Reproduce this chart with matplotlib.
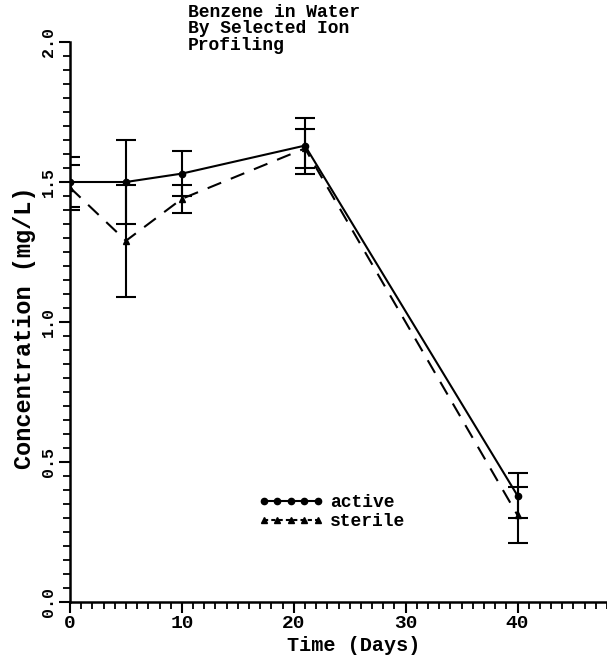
import matplotlib
matplotlib.use("Agg")
import matplotlib.pyplot as plt
from matplotlib.ticker import MultipleLocator
from matplotlib.lines import Line2D

# sampling days
days = [0, 5, 10, 21, 40]

# active series: mean concentration and error half-width (mg/L)
active = [1.50, 1.50, 1.53, 1.63, 0.38]
active_err = [0.09, 0.15, 0.08, 0.10, 0.08]

# sterile series
sterile = [1.48, 1.29, 1.44, 1.62, 0.31]
sterile_err = [0.08, 0.20, 0.05, 0.07, 0.10]

title_lines = ["Benzene in Water", "By Selected Ion", "Profiling"]

plt.rcParams['font.family'] = ['Liberation Mono', 'DejaVu Sans Mono']
plt.rcParams['font.weight'] = 'bold'
plt.rcParams['axes.labelweight'] = 'bold'
plt.rcParams['font.size'] = 13

fig = plt.figure(figsize=(6.07, 6.63), dpi=100)
ax = fig.add_axes([70 / 607, 61 / 663, 537 / 607, 560 / 663])

ax.errorbar(days, active, yerr=active_err, color='black', lw=1.5,
            marker='o', ms=4.5, capsize=7, elinewidth=1.5, capthick=1.5)
ax.errorbar(days, sterile, yerr=sterile_err, color='black', lw=1.5,
            ls=(0, (7, 5)), marker='^', ms=4.5, capsize=7, elinewidth=1.5,
            capthick=1.5)

ax.set_xlim(0, 48)
ax.set_ylim(0, 2.0)
ax.spines['top'].set_visible(False)
ax.spines['right'].set_visible(False)
ax.spines['left'].set_linewidth(1.8)
ax.spines['bottom'].set_linewidth(1.8)

ax.xaxis.set_major_locator(MultipleLocator(10))
ax.xaxis.set_minor_locator(MultipleLocator(1))
ax.yaxis.set_major_locator(MultipleLocator(0.5))
ax.yaxis.set_minor_locator(MultipleLocator(0.05))
ax.tick_params(which='major', length=8, width=1.5, direction='out')
ax.tick_params(which='minor', length=5, width=1.3, direction='out')
ax.tick_params(axis='x', pad=1, labelsize=14)
ax.tick_params(axis='y', pad=2, labelsize=12)
ax.set_yticks([0, 0.5, 1.0, 1.5, 2.0])
ax.set_yticklabels(['0.0', '0.5', '1.0', '1.5', '2.0'], rotation=90, va='center')

ax.set_xlabel("Time (Days)", fontsize=14.5)
ax.set_ylabel("Concentration (mg/L)", fontsize=17)
ax.xaxis.set_label_coords(0.529, -0.078)
ax.xaxis.label.set_va('center')
ax.yaxis.set_label_coords(-0.084, 0.489)
ax.yaxis.label.set_va('center')

ax.text(0.220, 1.068, "\n".join(title_lines), transform=ax.transAxes,
        ha='left', va='top', linespacing=0.95)

handles = [
    Line2D([], [], color='black', lw=1.5, marker='o', ms=4.5),
    Line2D([], [], color='black', lw=1.5, ls=(0, (2, 1.5)), marker='^', ms=4.5),
]
ax.legend(handles, ['active', 'sterile'], loc='center left',
          bbox_to_anchor=(0.32, 0.16), frameon=False, numpoints=5,
          handlelength=3.6, handletextpad=0.4, labelspacing=0.1)

fig.savefig("out.png", dpi=100)
